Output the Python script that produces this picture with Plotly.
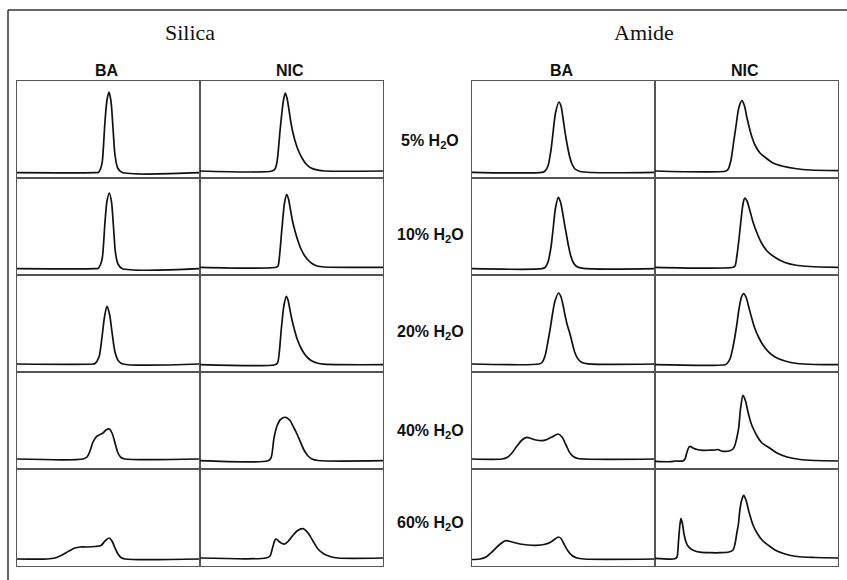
import plotly.graph_objects as go

# ---------------- data (time index, detector signal) ----------------
columns = ["Silica BA", "Silica NIC", "Amide BA", "Amide NIC"]
conditions = ["5% H<sub>2</sub>O", "10% H<sub>2</sub>O", "20% H<sub>2</sub>O",
              "40% H<sub>2</sub>O", "60% H<sub>2</sub>O"]
phase_titles = ["Silica", "Amide"]
analyte_titles = ["BA", "NIC", "BA", "NIC"]

# Silica, BA
silica_ba_05 = [(0, 5.3), (78, 5.3), (81.3, 5.6), (83.5, 9), (85.3, 16.7), (88, 56.7), (90, 78), (92, 86),
                (94, 76.7), (96, 50), (98, 23), (100.7, 10), (104.7, 5.7), (183, 5.3)]
silica_ba_10 = [(0, 6.3), (78, 6.3), (81, 6.6), (83.3, 10), (85.3, 17), (88, 53), (90, 74), (92.3, 82),
                (94.5, 73), (96.5, 48), (98.5, 22), (101, 11), (105, 6.5), (183, 6.3)]
silica_ba_20 = [(0, 8), (76, 8), (78, 8.5), (82, 15), (85, 35), (87.5, 55), (90, 65.7), (92.5, 58),
                (95, 40), (98, 20), (101.5, 11), (106, 8), (183, 8)]
silica_ba_40 = [(0, 10), (66, 10), (70, 12), (73, 18), (76, 27), (79.7, 32.7), (83, 34.5), (86, 36),
                (89, 39), (92.3, 40), (95, 36), (98, 26), (101, 16), (104, 11.5), (108, 10), (183, 10)]
silica_ba_60 = [(0, 7), (30, 7), (38, 8), (45, 11), (52, 15), (58, 18), (63, 19), (70, 19), (78, 19.5),
                (84, 20.5), (88, 25), (92.3, 28), (95, 25), (98, 18), (101, 12), (104, 8.5), (108, 7), (183, 7)]

# Silica, NIC
silica_nic_05 = [(0, 7), (72, 7), (75, 9), (77, 16), (80.3, 50), (83.5, 78), (85.3, 85), (87, 80), (89, 68),
                 (91, 55), (93, 45), (96, 34), (99, 26), (102, 20), (106, 14), (111, 10), (118, 7.8),
                 (125, 7), (183, 7)]
silica_nic_10 = [(0, 7.7), (76, 7.7), (78, 9), (79.3, 17), (82, 47), (84.5, 72), (86.7, 80.3), (88.5, 76),
                 (90.5, 65), (92.5, 54), (95, 44), (98, 34), (101, 26), (104.5, 19.5), (108, 15),
                 (112, 11.5), (117, 9), (124, 8), (183, 7.7)]
silica_nic_20 = [(0, 7.3), (75, 7.3), (77.5, 9), (79, 17), (81.5, 45), (84, 67), (86.3, 75.7), (88, 72),
                 (90, 62), (92, 52), (94.5, 42), (97.5, 32), (101, 24), (104.5, 18), (108, 14), (112, 11),
                 (117, 9), (124, 7.8), (183, 7.3)]
silica_nic_40 = [(0, 8.3), (68, 8.3), (71, 11), (74, 31), (77, 43), (80.5, 49.5), (85.7, 51.7), (90, 48.5),
                 (94, 41), (97, 35), (100, 28), (104, 19), (108, 13), (112, 10), (118, 8.5), (183, 8.3)]
silica_nic_60 = [(0, 8), (66, 8), (70, 10), (72.5, 18), (75, 26), (76.3, 27), (79, 24.5), (82, 22.5),
                 (84.7, 22), (88, 24.5), (92, 29.5), (97, 35), (103, 37.3), (108, 33), (113, 25), (118, 17),
                 (124, 12), (130, 9.5), (138, 8), (183, 8)]

# Amide, BA
amide_ba_05 = [(0, 5.7), (70, 5.7), (73, 7), (76, 12), (79, 28), (81, 45), (83.5, 65), (87, 76), (89, 72),
               (91, 60), (93, 46), (94, 40), (96, 29), (98, 20), (100, 14), (103, 9), (108, 6.5), (183, 5.7)]
amide_ba_10 = [(0, 6.3), (70, 6.3), (73, 7.5), (76, 13), (79, 28), (81, 45), (83.5, 67), (86.3, 77.7),
               (88.5, 73), (90.5, 63), (92.5, 51), (94.5, 40), (96.5, 29), (98.5, 20), (101, 13),
               (104, 9), (110, 6.8), (183, 6.3)]
amide_ba_20 = [(0, 8), (67, 8), (70, 9.5), (73, 16), (75.5, 28), (78, 42), (80.5, 58), (83, 71), (86.7, 79),
               (89, 75), (91, 67), (93, 57), (95, 48), (98, 38), (100.5, 28), (103, 19), (106, 13),
               (110, 9.5), (116, 8.2), (183, 8)]
amide_ba_40 = [(0, 10), (30, 10), (35, 11.5), (40, 16), (45, 23), (50, 29), (54.7, 31.7), (59, 30.5),
               (64, 29), (69.7, 28.3), (75, 29.5), (80, 32), (86.3, 35), (90, 32), (94, 24), (98, 16),
               (102, 12), (106, 10.5), (183, 10)]
amide_ba_60 = [(0, 6.5), (8, 7), (14, 9), (20, 14), (26, 20), (31, 24), (34, 25.3), (40, 24), (48, 22),
               (56, 21), (64, 20.7), (72, 21.5), (78, 23.5), (83, 27), (86.3, 29), (89, 27.5), (92, 22),
               (96, 15), (100, 10.5), (105, 8), (112, 7), (183, 7)]

# Amide, NIC
amide_nic_05 = [(0, 7), (71, 7), (73, 8.5), (76, 18), (78.5, 35), (81, 52), (84, 71), (87, 77.3), (89.5, 72),
                (92, 60), (96.3, 43), (100, 33), (105, 25), (111, 20), (118, 15), (128, 11.7), (140, 9.5),
                (155, 8), (183, 7.3)]
amide_nic_10 = [(0, 7.7), (78, 7.7), (80, 9), (82, 20), (84, 36), (86, 55), (88, 71), (89.7, 77), (92, 74),
                (95, 64), (98, 53), (101.3, 43.7), (106, 33), (112, 24), (121, 17), (130, 12.5), (140, 10),
                (155, 8.5), (183, 7.7)]
amide_nic_20 = [(0, 7.3), (70, 7.3), (72, 8.5), (75, 13), (78, 25), (81.3, 44), (84, 63), (86.5, 75),
                (88.7, 78.3), (91, 75), (94, 64), (97, 53), (99.7, 44), (104, 34), (108, 27), (113, 20.7),
                (120, 15), (130, 11), (142, 8.5), (160, 7.5), (183, 7.3)]
amide_nic_40 = [(0, 7.7), (16, 7.3), (20, 8), (28, 8), (30, 10), (32, 17), (34, 22), (35.3, 22.7), (38, 21),
                (42, 19.5), (48, 18.7), (55, 18.8), (60, 19), (63, 19.5), (65, 18.5), (68, 17.7), (74, 18),
                (78, 20), (80, 24), (82, 32), (83.7, 41), (85.5, 60), (88, 73.7), (90.5, 68), (93, 57),
                (96, 46), (98, 41), (102, 33), (107, 26), (114.7, 21), (122, 16), (132, 12), (145, 9.5),
                (160, 8.5), (183, 8)]
amide_nic_60 = [(0, 7.7), (20, 7.3), (22, 9), (23.5, 25), (25, 42), (26, 47.3), (27.5, 42), (29, 32),
                (31, 24), (33, 20), (36, 17), (40, 15), (45, 13.8), (55, 13.3), (65, 13.3), (74, 14),
                (78, 16), (80, 22), (82, 34), (83.3, 41), (85, 57), (87, 67), (88.7, 70.7), (91, 66),
                (94, 54), (98, 41), (102, 33), (107, 26), (113, 21), (120, 16), (130, 12), (142, 9.5),
                (160, 8.5), (183, 8)]

grid = [
    [silica_ba_05, silica_nic_05, amide_ba_05, amide_nic_05],
    [silica_ba_10, silica_nic_10, amide_ba_10, amide_nic_10],
    [silica_ba_20, silica_nic_20, amide_ba_20, amide_nic_20],
    [silica_ba_40, silica_nic_40, amide_ba_40, amide_nic_40],
    [silica_ba_60, silica_nic_60, amide_ba_60, amide_nic_60],
]

# ---------------- layout geometry ----------------
W, H = 847, 580
col_px = [(17, 200), (200, 383), (472, 655), (655, 838)]
row_px = [(81, 178), (178, 275), (275, 372), (372, 469), (469, 566)]

def px_x(v):
    return v / W

def px_y(v):
    return 1 - v / H

fig = go.Figure()
layout_axes = {}
n = 0
for r, row in enumerate(grid):
    for c, series in enumerate(row):
        n += 1
        sfx = "" if n == 1 else str(n)
        t = [p[0] for p in series]
        s = [p[1] for p in series]
        fig.add_trace(go.Scatter(
            x=t, y=s, mode="lines",
            line=dict(color="#111111", width=1.7, shape="spline", smoothing=0.8),
            xaxis="x" + sfx, yaxis="y" + sfx, showlegend=False, hoverinfo="skip",
        ))
        x0, x1 = col_px[c]
        y0, y1 = row_px[r]
        common = dict(showgrid=False, zeroline=False, showticklabels=False, ticks="",
                      showline=True, mirror=True, linecolor="#555555", linewidth=1.2,
                      fixedrange=True)
        layout_axes["xaxis" + sfx] = dict(domain=[px_x(x0), px_x(x1)], range=[0, 183],
                                          anchor="y" + sfx, **common)
        layout_axes["yaxis" + sfx] = dict(domain=[px_y(y1), px_y(y0)], range=[0, 97],
                                          anchor="x" + sfx, **common)

fig.update_layout(**layout_axes)

annotations = []
# phase titles
for title, xc in zip(phase_titles, [190, 644]):
    annotations.append(dict(text=title, x=px_x(xc), y=px_y(32), xref="paper", yref="paper",
                            showarrow=False, xanchor="center", yanchor="middle",
                            font=dict(family="Liberation Serif, Times New Roman, serif", size=22,
                                      color="#111111")))
# analyte titles
for title, (x0, x1) in zip(analyte_titles, col_px):
    annotations.append(dict(text="<b>" + title + "</b>", x=px_x((x0 + x1) / 2 - 2), y=px_y(70),
                            xref="paper", yref="paper", showarrow=False,
                            xanchor="center", yanchor="middle",
                            font=dict(family="Liberation Sans, Arial, sans-serif", size=16,
                                      color="#111111")))
# condition labels
label_y = [141.5, 236, 332, 431.5, 523]
for lab, yc in zip(conditions, label_y):
    annotations.append(dict(text="<b>" + lab + "</b>", x=px_x(430), y=px_y(yc),
                            xref="paper", yref="paper", showarrow=False,
                            xanchor="center", yanchor="middle",
                            font=dict(family="Liberation Sans, Arial, sans-serif", size=16,
                                      color="#111111")))

shapes = [
    dict(type="line", xref="paper", yref="paper", x0=px_x(8), x1=1.0, y0=px_y(10), y1=px_y(10),
         line=dict(color="#333333", width=1.5)),
    dict(type="line", xref="paper", yref="paper", x0=px_x(8), x1=px_x(8), y0=px_y(10), y1=0.0,
         line=dict(color="#333333", width=1.5)),
]

fig.update_layout(
    width=W, height=H,
    margin=dict(l=0, r=0, t=0, b=0),
    paper_bgcolor="white", plot_bgcolor="white",
    annotations=annotations, shapes=shapes,
    showlegend=False,
)

fig.write_html("out.html", config={"displayModeBar": False},
               post_script="document.body.style.margin='0';document.body.style.overflow='hidden';")
